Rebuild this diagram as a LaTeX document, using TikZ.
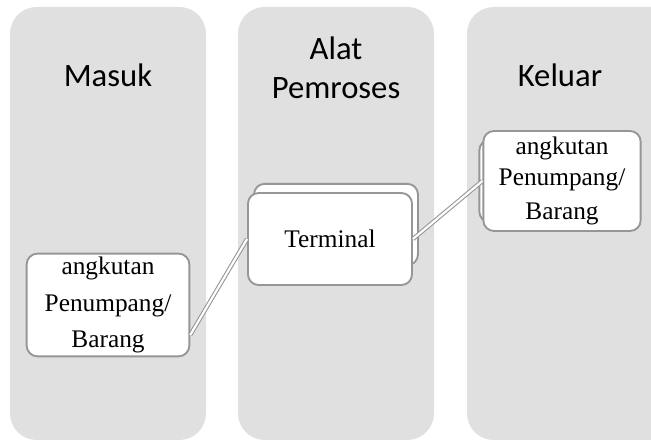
\documentclass[tikz,border=0pt]{standalone}
\usepackage{fontspec}
\setmainfont{Liberation Serif}
\newfontfamily\headfont{Carlito}
\usetikzlibrary{arrows.meta}

\definecolor{colgray}{RGB}{224,224,224}
\definecolor{edgegray}{RGB}{150,150,150}

\tikzset{
  column/.style={fill=colgray, rounded corners=20},
  head/.style={font=\headfont\fontsize{24.5}{29}\selectfont, align=center},
  itembox/.style={draw=edgegray, line width=1.4pt, fill=white, rounded corners=8,
    align=center, inner sep=0pt, font=\fontsize{19}{27.5}\selectfont},
  link/.style={draw=edgegray, double=white, double distance=1.6pt, line width=0.8pt}
}

\begin{document}
\begin{tikzpicture}[x=0.75pt,y=-0.75pt]
            \useasboundingbox (0,0) rectangle (651,441);

            % columns
            \fill[column] (10,7) rectangle (206,440);
            \fill[column] (238,7) rectangle (434,440);
            \fill[column] (467,7) rectangle (680,440);

            \node[head] (masuk) at (108,75) {Masuk};
            \node[head] (alat) at (336,68) {Alat\\Pemroses};
            \node[head] (keluar) at (560,75) {Keluar};

            % boxes
            \node[itembox, minimum width=122pt, minimum height=77pt] (inL) at (108,305)
                {angkutan\\Penumpang/\\Barang};

            \node[itembox, minimum width=123pt, minimum height=61pt] (termB) at (336,224.5) {};
            \node[itembox, minimum width=123pt, minimum height=69pt] (term) at (330,239) {Terminal};

            \node[itembox, minimum width=118pt, minimum height=62pt] (outB) at (558,181) {};
            \node[itembox, minimum width=118pt, minimum height=75pt,
                  font=\fontsize{19}{23.5}\selectfont] (outR) at (562,181)
                {angkutan\\Penumpang/\\[2pt]Barang};

            % links
            \draw[link] (inL.-20) -- (term.west);
            \draw[link] (term.east) -- (outR.west);
        \end{tikzpicture}
\end{document}
